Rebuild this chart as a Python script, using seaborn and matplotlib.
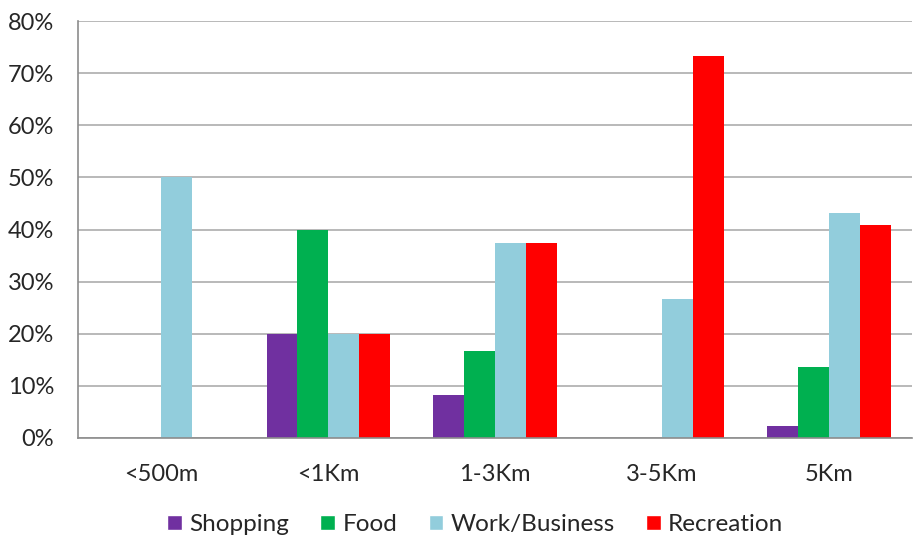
import pandas as pd
import matplotlib.pyplot as plt
import seaborn as sns
from matplotlib.patches import Patch
from matplotlib.ticker import PercentFormatter, FixedLocator

distances = ['<500m', '<1Km', '1-3Km', '3-5Km', '5Km']
series = ['Shopping', 'Food', 'Work/Business', 'Recreation']
shopping = [0, 20, 8.3, 0, 2.3]
food = [0, 40, 16.7, 0, 13.6]
work = [50, 20, 37.5, 26.7, 43.2]
recreation = [0, 20, 37.5, 73.3, 40.9]
colors = ['#7030A0', '#00B050', '#92CDDC', '#FF0000']

rows = []
for name, vals in zip(series, [shopping, food, work, recreation]):
    for d, v in zip(distances, vals):
        rows.append({'distance': d, 'purpose': name, 'value': v})
df = pd.DataFrame(rows)

sns.set_style('white')
plt.rcParams['font.family'] = ['Lato', 'DejaVu Sans']

fig = plt.figure(figsize=(9.14, 5.42), dpi=100)
ax = fig.add_axes([0.0853, 0.192, 0.913, 0.769])

sns.barplot(data=df, x='distance', y='value', hue='purpose', order=distances,
            hue_order=series, palette=colors, width=0.74, saturation=1,
            linewidth=0, legend=False, ax=ax)

ax.set_ylim(0, 80)
ax.set_xlim(-0.5, 4.5)
ax.set_yticks(range(0, 81, 10))
ax.yaxis.set_major_formatter(PercentFormatter(decimals=0))
ax.yaxis.grid(True, color='#ADADAD', linewidth=1.2)
ax.set_axisbelow(True)
ax.set_xlabel('')
ax.set_ylabel('')

for s in ['top', 'right']:
    ax.spines[s].set_visible(False)
for s in ['left', 'bottom']:
    ax.spines[s].set_color('#8C8C8C')
    ax.spines[s].set_linewidth(1.2)

ax.tick_params(axis='y', length=6, width=1.2, color='#8C8C8C', labelsize=17,
               labelcolor='#262626', pad=11)
ax.tick_params(axis='x', which='major', length=0, labelsize=17,
               labelcolor='#262626', pad=19)
ax.xaxis.set_minor_locator(FixedLocator([i - 0.5 for i in range(6)]))
ax.tick_params(axis='x', which='minor', length=7, width=1.2, color='#8C8C8C')

handles = [Patch(facecolor=c, label=n) for c, n in zip(colors, series)]
fig.legend(handles=handles, loc='lower center', ncol=4, frameon=False,
           fontsize=17.5, handlelength=0.6, handleheight=0.6, handletextpad=0.3,
           columnspacing=1.3, bbox_to_anchor=(0.52, -0.028))

fig.savefig('out.png', dpi=100)
